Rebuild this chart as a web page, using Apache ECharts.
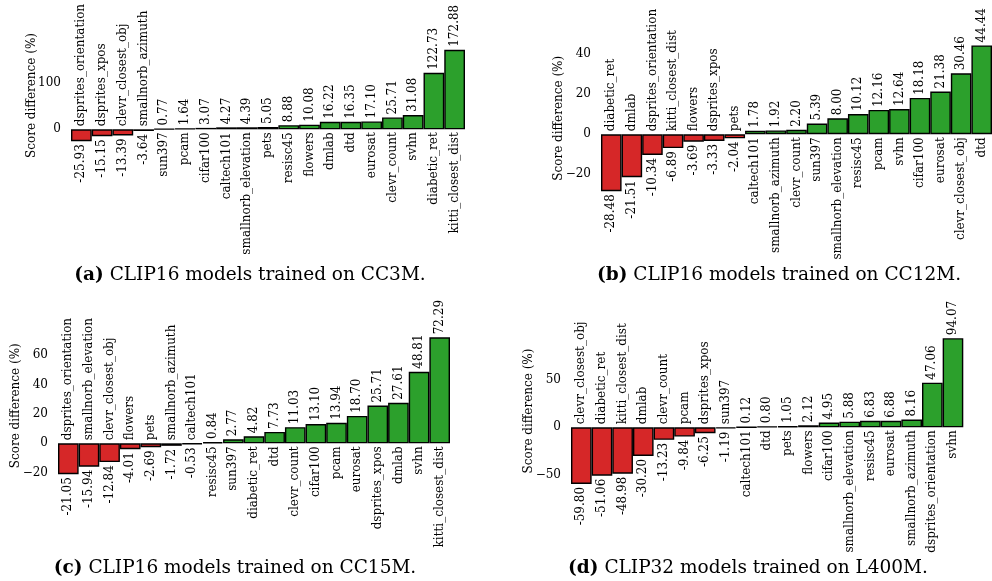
<!DOCTYPE html>
<html>
<head>
<meta charset="utf-8">
<script src="https://cdn.jsdelivr.net/npm/echarts@6/dist/echarts.min.js"></script>
<style>
html,body{margin:0;padding:0;background:#fff;}
#chart{width:992px;height:581px;}
</style>
</head>
<body>
<div id="chart"></div>
<script>
// ---- data ----
const catsA = ['dsprites_orientation','dsprites_xpos','clevr_closest_obj','smallnorb_azimuth','sun397','pcam','cifar100','caltech101','smallnorb_elevation','pets','resisc45','flowers','dmlab','dtd','eurosat','clevr_count','svhn','diabetic_ret','kitti_closest_dist'];
const valsA = [-25.93,-15.15,-13.39,-3.64,0.77,1.64,3.07,4.27,4.39,5.05,8.88,10.08,16.22,16.35,17.10,25.71,31.08,122.73,172.88];
const ticksA = [0,100];

const catsB = ['diabetic_ret','dmlab','dsprites_orientation','kitti_closest_dist','flowers','dsprites_xpos','pets','caltech101','smallnorb_azimuth','clevr_count','sun397','smallnorb_elevation','resisc45','pcam','svhn','cifar100','eurosat','clevr_closest_obj','dtd'];
const valsB = [-28.48,-21.51,-10.34,-6.89,-3.69,-3.33,-2.04,1.78,1.92,2.20,5.39,8.00,10.12,12.16,12.64,18.18,21.38,30.46,44.44];
const ticksB = [-20,0,20,40];

const catsC = ['dsprites_orientation','smallnorb_elevation','clevr_closest_obj','flowers','pets','smallnorb_azimuth','caltech101','resisc45','sun397','diabetic_ret','dtd','clevr_count','cifar100','pcam','eurosat','dsprites_xpos','dmlab','svhn','kitti_closest_dist'];
const valsC = [-21.05,-15.94,-12.84,-4.01,-2.69,-1.72,-0.53,0.84,2.77,4.82,7.73,11.03,13.10,13.94,18.70,25.71,27.61,48.81,72.29];
const ticksC = [-20,0,20,40,60];

const catsD = ['clevr_closest_obj','diabetic_ret','kitti_closest_dist','dmlab','clevr_count','pcam','dsprites_xpos','sun397','caltech101','dtd','pets','flowers','cifar100','smallnorb_elevation','resisc45','eurosat','smallnorb_azimuth','dsprites_orientation','svhn'];
const valsD = [-59.80,-51.06,-48.98,-30.20,-13.23,-9.84,-6.25,-1.19,0.12,0.80,1.05,2.12,4.95,5.88,6.83,6.88,8.16,47.06,94.07];
const ticksD = [-50,0,50];

const captions = [
  ['(a)','CLIP16 models trained on CC3M.'],
  ['(b)','CLIP16 models trained on CC12M.'],
  ['(c)','CLIP16 models trained on CC15M.'],
  ['(d)','CLIP32 models trained on L400M.']
];

// ---- layout / style ----
const FONT = 'DejaVu Serif';
const RED = '#d62728', GREEN = '#2ca02c';
const panels = [
  {cats: catsA, vals: valsA, ticks: ticksA, grid: {left: 71, top: 45.2, width: 394, height: 100.6}, nameGap: 33, cap: {x: 250, y: 266}},
  {cats: catsB, vals: valsB, ticks: ticksB, grid: {left: 601, top: 38.1, width: 392, height: 160.4}, nameGap: 36, cap: {x: 779, y: 266}},
  {cats: catsC, vals: valsC, ticks: ticksC, grid: {left: 58, top: 330.5, width: 392, height: 150.5}, nameGap: 36, cap: {x: 235, y: 559}},
  {cats: catsD, vals: valsD, ticks: ticksD, grid: {left: 571, top: 330.9, width: 392.3, height: 160.3}, nameGap: 36, cap: {x: 748, y: 559}}
];

const labelBase = {show: true, rotate: 90, verticalAlign: 'middle', color: '#000', fontFamily: FONT, fontSize: 12, distance: 3};
const outer = v => v < 0 ? {position: 'bottom', align: 'right'} : {position: 'top', align: 'left'};
const inner = v => v < 0 ? {position: 'top', align: 'left'} : {position: 'bottom', align: 'right'};

const option = {
  animation: false,
  backgroundColor: '#fff',
  title: [], grid: [], xAxis: [], yAxis: [], series: []
};

panels.forEach((p, i) => {
  option.grid.push(Object.assign({}, p.grid, {containLabel: false}));
  option.xAxis.push({
    type: 'category', gridIndex: i, data: p.cats,
    axisLine: {show: false}, axisTick: {show: false}, axisLabel: {show: false}, splitLine: {show: false}
  });
  option.yAxis.push({
    type: 'value', gridIndex: i,
    min: v => v.min - 0.05 * (v.max - v.min),
    max: v => v.max + 0.05 * (v.max - v.min),
    axisLine: {show: false}, axisTick: {show: false}, splitLine: {show: false},
    axisLabel: {
      customValues: p.ticks, margin: 10, color: '#000', fontFamily: FONT, fontSize: 12,
      formatter: v => String(v).replace('-', '\u2212')
    },
    name: 'Score difference (%)', nameLocation: 'middle', nameGap: p.nameGap,
    nameMoveOverlap: false,
    nameTextStyle: {color: '#000', fontFamily: FONT, fontSize: 12}
  });
  option.series.push({
    type: 'bar', xAxisIndex: i, yAxisIndex: i,
    barCategoryGap: '0%', barGap: '-100%', z: 3,
    label: Object.assign({}, labelBase, {formatter: q => q.value.toFixed(2)}),
    data: p.vals.map(v => ({
      value: v,
      itemStyle: {color: v < 0 ? RED : GREEN, borderColor: '#000', borderWidth: 1.4},
      label: outer(v)
    }))
  });
  option.series.push({
    type: 'bar', xAxisIndex: i, yAxisIndex: i,
    barCategoryGap: '0%', barGap: '-100%', z: 2, silent: true,
    itemStyle: {color: 'rgba(0,0,0,0)', borderWidth: 0},
    label: Object.assign({}, labelBase, {formatter: q => q.name}),
    data: p.vals.map(v => ({value: v, label: inner(v)}))
  });
  option.title.push({
    text: '{b|' + captions[i][0] + '} ' + captions[i][1],
    left: p.cap.x, top: p.cap.y, textAlign: 'center', padding: 0,
    textStyle: {
      fontFamily: FONT, fontSize: 18.5, fontWeight: 'normal', color: '#000',
      rich: {b: {fontFamily: FONT, fontSize: 18.5, fontWeight: 'bold', color: '#000'}}
    }
  });
});

const chart = echarts.init(document.getElementById('chart'), null, {renderer: 'canvas'});
chart.setOption(option);
</script>
</body>
</html>
